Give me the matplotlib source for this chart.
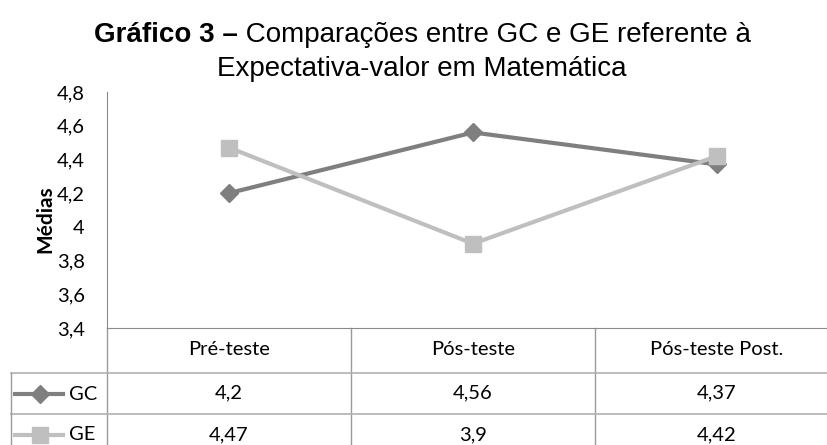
import matplotlib
matplotlib.use('Agg')
import matplotlib.pyplot as plt
import matplotlib.transforms as mtransforms
from matplotlib.lines import Line2D
from matplotlib import font_manager

categories = ['Pré-teste', 'Pós-teste', 'Pós-teste Post.']
gc = [4.2, 4.56, 4.37]
ge = [4.47, 3.9, 4.42]
gc_labels = ['4,2', '4,56', '4,37']
ge_labels = ['4,47', '3,9', '4,42']
yticks = [3.4, 3.6, 3.8, 4.0, 4.2, 4.4, 4.6, 4.8]
ytick_labels = ['3,4', '3,6', '3,8', '4', '4,2', '4,4', '4,6', '4,8']

GC_COLOR = '#7f7f7f'
GE_COLOR = '#bfbfbf'
GRID = '#9a9a9a'

names = {f.name for f in font_manager.fontManager.ttflist}
body_font = 'Lato' if 'Lato' in names else 'DejaVu Sans'
title_font = 'Liberation Sans'
FS = 14.5

W, H = 827, 445
fig = plt.figure(figsize=(W / 100, H / 100), dpi=100)

def fx(px):
    return px / W

def fy(py):
    return 1 - py / H

# plot area (right edge runs past the crop, like the original)
ax_left, ax_right, ax_top, ax_bot = 107, 839, 92, 328
ax = fig.add_axes([fx(ax_left), fy(ax_bot), fx(ax_right - ax_left), (ax_bot - ax_top) / H])

x = list(range(len(categories)))
ax.plot(x, gc, color=GC_COLOR, lw=3, marker='D', ms=9, zorder=3)
ax.plot(x, ge, color=GE_COLOR, lw=3, marker='s', ms=12, zorder=4)

ax.set_xlim(-0.5, len(categories) - 0.5)
ax.set_ylim(3.4, 4.8)
ax.set_yticks(yticks)
ax.set_yticklabels(ytick_labels, fontfamily=body_font, fontsize=FS)
ax.tick_params(axis='y', length=0, pad=16)
ax.set_xticks([])
for s in ['top', 'right']:
    ax.spines[s].set_visible(False)
ax.spines['left'].set_color('#8a8a8a')
ax.spines['bottom'].set_color('#8a8a8a')

fig.text(fx(45), fy(219), 'Médias', rotation=90, ha='center', va='center',
         fontfamily=body_font, fontweight='bold', fontsize=15)

# data table under the plot
row_h = 43 / (ax_bot - ax_top)
blend = mtransforms.blended_transform_factory(ax.transData, ax.transAxes)
tab_bottom = -0.6
for xb in [-0.5, 0.5, 1.5]:
    ax.add_line(Line2D([xb, xb], [0, tab_bottom], transform=blend, color=GRID,
                       lw=1, clip_on=False))
for yl in [373, 414]:
    fig.add_artist(Line2D([fx(11), fx(W)], [fy(yl), fy(yl)], color='#b0b0b0', lw=1.2))
fig.add_artist(Line2D([fx(11), fx(11)], [fy(373), fy(H)], color=GRID, lw=1))

for i, c in enumerate(categories):
    ax.text(i, -row_h / 2, c, transform=blend, ha='center', va='center',
            fontfamily=body_font, fontsize=FS)
    ax.text(i, -row_h * 1.5, gc_labels[i], transform=blend, ha='center', va='center',
            fontfamily=body_font, fontsize=FS)
    ax.text(i, -row_h * 2.48, ge_labels[i], transform=blend, ha='center', va='center',
            fontfamily=body_font, fontsize=FS)

for name, col, mk, ms, yc in [('GC', GC_COLOR, 'D', 9, 394), ('GE', GE_COLOR, 's', 12, 435)]:
    fig.add_artist(Line2D([fx(15), fx(63)], [fy(yc), fy(yc)], color=col, lw=3))
    fig.add_artist(Line2D([fx(40)], [fy(yc)], color=col, marker=mk, ms=ms, lw=0))
    fig.text(fx(69), fy(yc), name, ha='left', va='center', fontfamily=body_font, fontsize=FS)

# title with bold prefix
TFS = 20
t_bold = fig.text(0, fy(42), 'Gráfico 3 –', ha='left', va='baseline',
                  fontfamily=title_font, fontweight='bold', fontsize=TFS)
t_norm = fig.text(0, fy(42), ' Comparações entre GC e GE referente à', ha='left', va='baseline',
                  fontfamily=title_font, fontsize=TFS)
fig.canvas.draw()
r = fig.canvas.get_renderer()
wb = t_bold.get_window_extent(r).width
wn = t_norm.get_window_extent(r).width
start = 422.5 - (wb + wn) / 2
t_bold.set_x(fx(start))
t_norm.set_x(fx(start + wb))
fig.text(fx(421.5), fy(76), 'Expectativa-valor em Matemática', ha='center', va='baseline',
         fontfamily=title_font, fontsize=TFS)

fig.savefig('out.png', dpi=100)
